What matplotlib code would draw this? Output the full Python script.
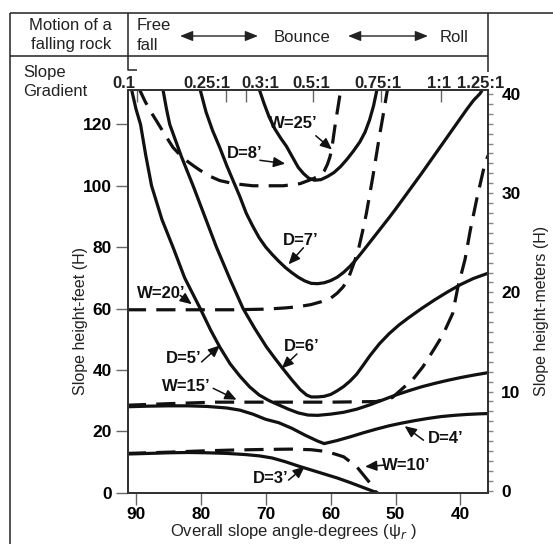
import matplotlib.pyplot as plt
from matplotlib.ticker import MultipleLocator

plt.rcParams['font.family'] = ['Liberation Sans', 'DejaVu Sans']

# Slope angle (degrees) vs. slope height (feet) for ditch depth D and width W
d3_deg = [91.4, 88, 85, 82, 79, 76, 73, 71, 69, 67, 65, 63, 61, 59, 57, 55, 53.5, 52.9]
d3_ft = [12.6, 12.8, 13.0, 13.1, 13.0, 12.8, 12.4, 12.0, 11.3, 10.1, 8.7, 7.4, 6.1, 4.8, 3.3, 1.7, 0.5, 0]

d4_deg = [91.4, 88, 85, 82, 79, 76, 74, 72, 70, 68, 66, 64, 62, 61, 59, 57, 55, 53, 51,
          49, 47, 45, 43, 41, 39, 37, 35.5]
d4_ft = [28.0, 28.2, 28.3, 28.3, 28.1, 27.6, 26.9, 25.6, 23.9, 22.8, 21.0, 18.8, 16.8, 16.0,
         17.0, 18.2, 19.5, 20.7, 21.8, 22.7, 23.5, 24.2, 24.8, 25.2, 25.5, 25.7, 25.8]

d5_deg = [90.75, 90.0, 89.3, 88.5, 87.6, 86.0, 84.3, 82.5, 80.1, 78.5, 77.1, 75.5, 74, 72.5,
          71, 69.5, 68, 66.5, 65, 63.5, 62, 60, 58, 56, 54, 52, 50, 48, 46, 44, 42, 40, 38, 35.5]
d5_ft = [132, 125, 120, 110, 100, 89, 80, 70, 60, 53, 47.5, 42, 38, 34.5, 31.8, 30, 28.6, 27.2,
         26, 25.3, 25.2, 25.6, 26.2, 27.2, 28.6, 30.2, 31.8, 33.2, 34.5, 35.6, 36.6, 37.5, 38.3, 39.2]

d6_deg = [85.9, 85.3, 84.8, 83, 81.2, 79.4, 77.6, 75.5, 73.5, 71.7, 69.9, 68.6, 67.4, 66, 64.7,
          63.7, 63, 62, 61, 60, 59, 58, 57, 56, 55, 54, 52.5, 51, 49.5, 48, 46, 44, 42, 40, 38, 35.5]
d6_ft = [132, 125, 120, 109.5, 100, 90, 80, 69.5, 60, 53.5, 47.5, 43.8, 40.5, 36.8, 33.6,
         31.8, 31.2, 31.2, 31.4, 32, 33.2, 34.6, 36.4, 38.6, 41.5, 44.5, 48.5, 51.8, 54.6, 57,
         60, 62.8, 65.4, 67.8, 69.8, 71.7]

d7_deg = [80.2, 79.2, 78.2, 77.1, 76, 75, 74, 73, 72, 71, 70, 69, 68, 67, 66, 65, 64, 63, 62,
          61, 60, 59, 58, 57, 56, 55, 54, 53, 52, 51, 50, 49, 48, 47, 46, 45, 44, 43, 42, 41,
          40, 39, 38, 37, 36.4]
d7_ft = [132, 124, 118, 112.5, 106.5, 101.5, 96.5, 91, 86.8, 83, 80, 77.6, 75.4, 73.4, 71.7,
         70.2, 69, 68.2, 68.1, 68.4, 69.1, 70.2, 71.8, 73.8, 76.2, 78.8, 81.5, 84.2, 86.9, 89.6,
         92.4, 95.3, 98.2, 101.1, 104, 107, 110, 113, 116, 119, 122, 125, 127.8, 130, 132]

d8_deg = [71.1, 70.3, 69.5, 68.6, 67.7, 66.8, 65.8, 65.0, 64.2, 63.4, 62.5, 61.5, 60.5, 59.5,
          58.5, 57.5, 56.5, 55.5, 54.7, 54.0, 53.4, 52.8]
d8_ft = [132, 127, 122.5, 118.5, 115.5, 112.8, 109, 106, 104, 102.5, 101.8, 102, 103, 104.3,
         106.2, 108.6, 111.3, 114.3, 117.5, 121.5, 126, 132]

w10_deg = [91.4, 85, 80, 75, 70, 66, 63, 61, 59.5, 58, 57, 56, 55, 54, 53.4, 52.9]
w10_ft = [12.8, 13.2, 13.6, 13.9, 14.1, 14.2, 14.0, 13.5, 12.7, 11.7, 10.1, 8.5, 5.9, 3.3, 1.0, 0]

w15_deg = [91.4, 85, 78, 70, 60, 53, 50.5, 48.9, 47.3, 45.8, 44, 42.7, 41.2, 40.4, 39.3, 38.5,
           37.5, 36.2, 35.5]
w15_ft = [28.5, 29.0, 29.5, 29.5, 29.5, 29.7, 31, 34, 37, 41, 47, 51.5, 58.4, 67, 76, 85.4,
          95.6, 107.6, 111]

w20_deg = [91.4, 85, 80, 75, 70, 67, 65, 63, 61.5, 60.1, 59, 58.1, 57.5, 57.0, 56.3, 55.7,
           55.1, 54.5, 54.0, 53.5, 53.0, 52.5, 52.0, 51.6, 51.2]
w20_ft = [59.6, 59.6, 59.6, 59.6, 59.8, 60.2, 60.6, 61.3, 62.2, 63.2, 65, 67, 69, 71.4, 75.5,
          79.5, 85, 91, 97, 103, 109.5, 116, 122, 127, 132]

w25_deg = [89.6, 88.6, 87.8, 86.8, 85.5, 84.3, 83.2, 82.1, 81, 80.1, 78.5, 77.1, 75, 72, 69.4,
           67.3, 64.7, 62.7, 61.5, 61.0, 60.5, 60.1, 59.8, 59.3, 58.8, 58.4]
w25_ft = [132, 127.5, 124.4, 121, 116.5, 112.5, 110, 108, 106.3, 105, 103, 101.7, 100.7, 100,
          100, 100, 100.7, 102.3, 103.5, 104.8, 107, 109.5, 112.5, 120, 126.6, 132]

depth_curves = [(d3_deg, d3_ft), (d4_deg, d4_ft), (d5_deg, d5_ft),
                (d6_deg, d6_ft), (d7_deg, d7_ft), (d8_deg, d8_ft)]
width_curves = [(w10_deg, w10_ft), (w15_deg, w15_ft), (w20_deg, w20_ft), (w25_deg, w25_ft)]

x_ticks = [90, 80, 70, 60, 50, 40]
ft_ticks = [0, 20, 40, 60, 80, 100, 120]
m_ticks = [0, 10, 20, 30, 40]
grad_ticks = [89.8, 76.1, 73.1, 62.7, 52.3, 43.0]
grad_labels = ["0.1", "0.25:1", "0.3:1", "0.5:1", "0.75:1", "1:1", "1.25:1"]

W, H = 553, 544
fig = plt.figure(figsize=(W / 100, H / 100), dpi=100)
ax = fig.add_axes([128 / W, 1 - 492.7 / H, 360 / W, 402.7 / H])
ax.set_xlim(91.23, 35.76)
ax.set_ylim(0, 131.2)

ink = "#111111"
for xs, ys in depth_curves:
    ax.plot(xs, ys, color=ink, lw=2.3, solid_joinstyle="round")
for xs, ys in width_curves:
    ax.plot(xs, ys, color=ink, lw=2.3, ls=(0, (6, 3.2)), dash_capstyle="butt")

# curve labels: text centre, arrow start, arrow tip
labels = [
    ("W=25’", (65.7, 120.2), (62.3, 116.3), (59.8, 111.8)),
    ("D=8’", (73.2, 110.4), (70.9, 108.3), (67.0, 107.2)),
    ("D=7’", (64.65, 82.1), (64.2, 79.8), (66.5, 74.4)),
    ("W=20’", (86.07, 64.8), (83.2, 64.3), (81.4, 61.4)),
    ("D=6’", (64.47, 47.5), (65.2, 45.2), (67.55, 40.5)),
    ("D=5’", (82.7, 43.7), (79.9, 42.6), (77.06, 48.0)),
    ("W=15’", (82.3, 34.5), (78.1, 34.0), (74.5, 30.3)),
    ("D=4’", (42.3, 17.7), (45.7, 17.1), (48.6, 21.7)),
    ("W=10’", (48.4, 9.0), (51.6, 9.0), (54.7, 8.5)),
    ("D=3’", (69.2, 4.7), (66.5, 4.1), (64.0, 8.5)),
]
for text, tpos, start, tip in labels:
    ax.text(*tpos, text, ha="center", va="center", fontsize=12, fontweight="bold", color=ink)
    ax.annotate("", xy=tip, xytext=start,
                arrowprops=dict(arrowstyle="-|>,head_length=0.5,head_width=0.22",
                                lw=1.1, color=ink, shrinkA=0, shrinkB=0, mutation_scale=14))

# left (feet) and bottom (degrees) axes
ax.set_xticks(x_ticks)
ax.set_yticks(ft_ticks)
ax.tick_params(axis="both", direction="out", length=8.5, width=1, color="#666666",
               labelsize=12.5, pad=3)
ax.tick_params(axis="x", pad=2)
for lbl in ax.get_xticklabels() + ax.get_yticklabels():
    lbl.set_fontweight("bold")

# right axis in metres
ax_r = ax.twinx()
ax_r.set_ylim(-0.2, 40.4)
ax_r.set_yticks(m_ticks)
ax_r.yaxis.set_minor_locator(MultipleLocator(1))
ax_r.tick_params(axis="y", which="both", direction="out", length=3.6, width=1,
                 color="#888888", labelsize=12.5, pad=6)
for lbl in ax_r.get_yticklabels():
    lbl.set_fontweight("bold")

# top axis: slope gradient tick marks
ax_t = ax.twiny()
ax_t.set_xlim(ax.get_xlim())
ax_t.set_xticks(grad_ticks)
ax_t.tick_params(axis="x", direction="in", length=8.4, width=1, color="#666666",
                 labeltop=False)

for a in (ax, ax_r, ax_t):
    for sp in a.spines.values():
        sp.set_color("#333333")
        sp.set_linewidth(1.4)

# header table and outer labels, drawn in pixel coordinates
ov = fig.add_axes([0, 0, 1, 1])
ov.set_xlim(0, W)
ov.set_ylim(H, 0)
ov.axis("off")

frame = dict(color="#222222", lw=1.1, solid_capstyle="butt")
ov.plot([9.5, W], [13, 13], **frame)
ov.plot([9.5, 488], [55.5, 55.5], **frame)
ov.plot([9.5, 9.5], [13, H], **frame)
ov.plot([128, 128, 137], [13, 70, 70], **frame)
ov.plot([488, 488], [13, 72], **frame)

hdr = dict(fontsize=12, va="center", color="#222222")
ov.text(70.7, 25.5, "Motion of a", ha="center", **hdr)
ov.text(70.7, 45, "falling rock", ha="center", **hdr)
ov.text(137, 25.5, "Free", ha="left", **hdr)
ov.text(137, 45, "fall", ha="left", **hdr)
ov.text(302, 37.5, "Bounce", ha="center", **hdr)
ov.text(454, 37.5, "Roll", ha="center", **hdr)
ov.text(23, 72, "Slope", ha="left", **hdr)
ov.text(23, 91, "Gradient", ha="left", **hdr)
for x0, x1 in [(180, 258), (348, 428)]:
    ov.annotate("", xy=(x1, 36), xytext=(x0, 36),
                arrowprops=dict(arrowstyle="<|-|>,head_length=0.55,head_width=0.22",
                                lw=1, color="#222222", shrinkA=0, shrinkB=0,
                                mutation_scale=14))

grad_x = [124, 206.7, 260, 311.7, 377.5, 439, 481]
for gx, g in zip(grad_x, grad_labels):
    ov.text(gx, 83.3, g, ha="center", va="center", fontsize=12, fontweight="bold",
            color="#222222")

ov.text(80, 321, "Slope height-feet (H)", rotation=90, ha="center", va="center",
        fontsize=11.5, color="#222222")
ov.text(541.7, 310.5, "Slope height-meters (H)", rotation=90, ha="center", va="center",
        fontsize=11.5, color="#222222")
ov.text(293, 531.7, "Overall slope angle-degrees (ψ$_r$ )", ha="center", va="center",
        fontsize=12, color="#222222")

fig.savefig("out.png", dpi=100)
